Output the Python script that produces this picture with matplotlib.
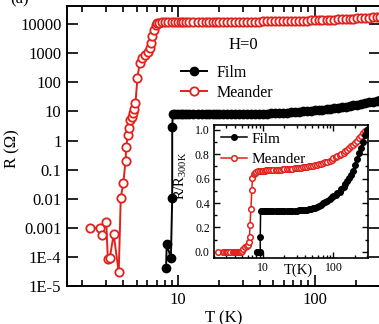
import numpy as np
import matplotlib
matplotlib.use('Agg')
import matplotlib.pyplot as plt
from matplotlib.ticker import FixedLocator, LogLocator, NullFormatter, AutoMinorLocator, FixedFormatter

plt.rcParams['font.family'] = ['Liberation Serif', 'DejaVu Serif']
plt.rcParams['mathtext.fontset'] = 'custom'
plt.rcParams['mathtext.rm'] = 'Liberation Serif'
plt.rcParams['mathtext.it'] = 'Liberation Serif:italic'

# ---- data ----
# Film: transition, then the normal-state branch
T_film = [8.2, 8.3, 8.9, 9.1, 9.1, 9.2,
          9.5, 10, 10.5, 11, 11.5, 12, 13, 14, 15, 16, 17, 18, 19, 20, 21.5, 23, 24.5, 26, 28, 30,
          32, 34, 36.5, 39, 42, 45, 48, 51, 55, 59, 63, 67, 72, 77, 82, 88, 94, 100, 107, 114,
          122, 130, 139, 148, 158, 169, 180, 192, 205, 219, 234, 250, 267, 285, 300]
R_film = [4e-5, 2.8e-4, 9e-5, 0.011, 3.0, 8.0,
          8.0, 8.0, 8.0, 8.0, 8.0, 8.0, 8.0, 8.0, 8.0, 8.0, 8.0, 8.0, 8.0, 8.0, 8.0, 8.05, 8.05, 8.1, 8.1, 8.1,
          8.15, 8.2, 8.2, 8.25, 8.3, 8.4, 8.5, 8.6, 8.7, 8.9, 9.1, 9.3, 9.6, 9.8, 10.1, 10.4, 10.7, 10.9, 11.2, 11.5,
          11.8, 12.3, 12.8, 13.3, 13.9, 14.6, 15.2, 16.0, 17.0, 18.3, 19.4, 20.5, 21.7, 23.0, 24.0]

# Meander
T_mea = [2.3, 2.7, 2.8, 3.0, 3.08, 3.18, 3.4, 3.7, 3.83, 4.0, 4.15, 4.2, 4.3, 4.4, 4.5, 4.6, 4.67,
         4.75, 4.9, 5.07, 5.25, 5.5, 5.8, 6.1, 6.3, 6.4, 6.5, 6.7, 6.9, 7.05, 7.3, 7.6, 8, 8.5, 9,
         9.5, 10, 10.5, 11, 11.5, 12, 13, 14, 15, 16, 17, 18, 19, 20, 21.5, 23, 24.5, 26, 28, 30,
         32, 34, 36.5, 39, 42, 45, 48, 51, 55, 59, 63, 67, 72, 77, 82, 88, 94, 100, 107, 114,
         122, 130, 139, 148, 158, 169, 180, 192, 205, 219, 234, 250, 267, 285, 300]
R_mea = [1e-3, 1e-3, 5.8e-4, 1.6e-3, 8.5e-5, 9e-5, 6e-4, 3e-5, 0.011, 0.035, 0.2, 0.58, 1.5, 2.8, 4.9, 6.5, 8.5,
         12.6, 19, 138, 450, 680, 850, 1070, 1500, 2200, 3900, 6200, 9000, 10700, 11300, 11500, 11600, 11700, 11700,
         11750, 11800, 11800, 11850, 11850, 11850, 11900, 11900, 11900, 11950, 11950, 11950, 12000, 12000, 12000, 12000, 12050, 12050, 12100, 12100,
         12150, 12200, 12250, 12300, 12350, 12400, 12450, 12500, 12550, 12600, 12700, 12800, 12900, 13000, 13100, 13250, 13400, 13550, 13700, 13850,
         14000, 14200, 14400, 14600, 14800, 15000, 15300, 15550, 15850, 16150, 16500, 16850, 17200, 17500, 17700]

ytick_vals = [1e-5, 1e-4, 1e-3, 1e-2, 0.1, 1, 10, 100, 1000, 10000]
ytick_labels = ['1E-5', '1E-4', '0.001', '0.01', '0.1', '1', '10', '100', '1000', '10000']

red = '#e3211c'

fig = plt.figure(figsize=(3.79, 3.24), dpi=100)
ax = fig.add_axes([67/379, 38/324, 313/379, 280/324])

ax.plot(T_mea, R_mea, '-o', color=red, mfc='white', mec=red, ms=6, mew=1.3, lw=1.4, label='Meander')
ax.plot(T_film, R_film, '-o', color='black', ms=6, lw=1.4, label='Film')

ax.set_xscale('log')
ax.set_yscale('log')
ax.set_xlim(1.55, 300)
ax.set_ylim(1e-5, 4.2e4)
ax.yaxis.set_major_locator(FixedLocator(ytick_vals))
ax.yaxis.set_major_formatter(FixedFormatter(ytick_labels))
ax.yaxis.set_minor_locator(LogLocator(base=10, subs=np.arange(2, 10)))
ax.yaxis.set_minor_formatter(NullFormatter())
ax.xaxis.set_major_locator(FixedLocator([10, 100]))
ax.xaxis.set_major_formatter(FixedFormatter(['10', '100']))
ax.xaxis.set_minor_locator(LogLocator(base=10, subs=np.arange(2, 10)))
ax.xaxis.set_minor_formatter(NullFormatter())
ax.tick_params(which='both', direction='in', top=True, right=True, labelsize=12, width=1.2)
ax.tick_params(which='major', length=8, pad=4)
ax.tick_params(which='minor', length=4)
for s in ax.spines.values():
    s.set_linewidth(1.4)
ax.set_ylabel('R (\u03a9)', fontsize=12)
ax.yaxis.set_label_coords(-0.15, 0.49)
ax.set_xlabel('T (K)', fontsize=12, labelpad=2)

h, l = ax.get_legend_handles_labels()
ax.legend([h[1], h[0]], [l[1], l[0]], loc='upper left', bbox_to_anchor=(181/379, 1 - 65/324),
          bbox_transform=fig.transFigure, frameon=False, fontsize=11.5, handlelength=1.6,
          handletextpad=0.6, labelspacing=0.25, borderpad=0, borderaxespad=0)
fig.text(243/379, 1 - 45/324, 'H=0', fontsize=12, ha='center', va='center')
fig.text(10/379, 1 - 3/324, '(a)', fontsize=12, ha='left', va='baseline')

# ---- inset: normalised resistance ----
axi = fig.add_axes([214/379, 66/324, 154/379, 133/324])
axi.plot(T_mea, np.array(R_mea) / R_mea[-1], '-o', color=red, mfc='white', mec=red, ms=4, mew=1.1, lw=1.1,
         label='Meander')
axi.plot(T_film, np.array(R_film) / R_film[-1], '-o', color='black', ms=4, lw=1.1, label='Film')
axi.set_xscale('log')
axi.set_xlim(2.0, 310)
axi.set_ylim(-0.05, 1.04)
axi.xaxis.set_major_locator(FixedLocator([10, 100]))
axi.xaxis.set_major_formatter(FixedFormatter(['10', '100']))
axi.xaxis.set_minor_locator(LogLocator(base=10, subs=np.arange(2, 10)))
axi.xaxis.set_minor_formatter(NullFormatter())
axi.set_yticks([0.0, 0.2, 0.4, 0.6, 0.8, 1.0])
axi.set_yticklabels(['0.0', '0.2', '0.4', '0.6', '0.8', '1.0'])
axi.yaxis.set_minor_locator(AutoMinorLocator(2))
axi.tick_params(which='both', direction='in', top=True, right=True, labelsize=8.5, width=1.0)
axi.tick_params(which='major', length=4, pad=3)
axi.tick_params(which='minor', length=2)
for s in axi.spines.values():
    s.set_linewidth(1.2)
axi.set_ylabel(r'R/R$_{\mathrm{300K}}$', fontsize=10.5)
axi.yaxis.set_label_coords(-0.16, 0.62)
axi.text(0.55, -0.09, 'T(K)', transform=axi.transAxes, fontsize=10.5, ha='center', va='center')
h2, l2 = axi.get_legend_handles_labels()
axi.legend([h2[1], h2[0]], [l2[1], l2[0]], loc='upper left', bbox_to_anchor=(221/379, 1 - 132/324),
           bbox_transform=fig.transFigure, frameon=False, fontsize=11, handlelength=1.7,
           handletextpad=0.3, labelspacing=0.45, borderpad=0, borderaxespad=0)

fig.savefig('out.png', dpi=100)
